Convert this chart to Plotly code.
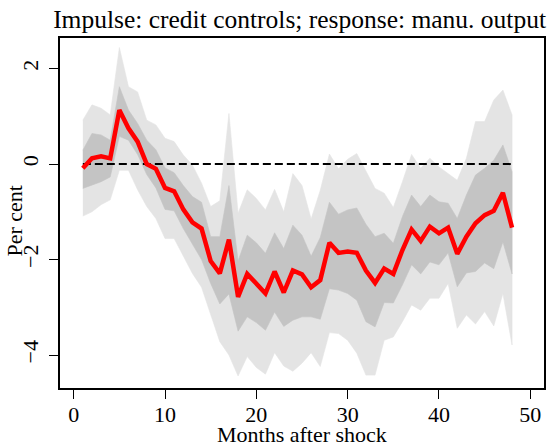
import plotly.graph_objects as go

months = list(range(1, 49))

# point estimate of the impulse response (per cent)
irf = [-0.09, 0.12, 0.16, 0.12, 1.13, 0.75, 0.47, 0.00, -0.10, -0.50,
       -0.57, -0.95, -1.22, -1.35, -2.03, -2.29, -1.58, -2.78, -2.30, -2.50,
       -2.71, -2.25, -2.69, -2.23, -2.31, -2.58, -2.43, -1.65, -1.86, -1.83,
       -1.86, -2.23, -2.49, -2.19, -2.30, -1.80, -1.37, -1.61, -1.31, -1.45,
       -1.33, -1.88, -1.52, -1.24, -1.07, -0.98, -0.60, -1.33]

# wide band
outer_hi = [0.92, 1.24, 1.17, 1.03, 2.44, 1.62, 1.51, 0.92, 0.82, 0.54,
            0.47, 0.19, -0.02, -0.40, -0.89, -0.77, 1.06, -1.03, -0.54, -0.72,
            -0.96, -0.53, -1.00, -0.20, -0.45, -1.15, -0.55, 0.21, -0.10, 0.10,
            0.22, -0.16, -0.51, -0.61, -0.91, -0.37, 0.20, -0.09, 0.12, -0.06,
            -0.20, -0.34, 0.12, 0.89, 0.89, 1.34, 1.55, 1.03]
outer_lo = [-1.09, -1.00, -0.85, -0.75, -0.13, -0.13, -0.54, -0.89, -1.14, -1.56,
            -1.56, -1.94, -2.29, -2.58, -3.15, -3.72, -4.00, -4.44, -4.03, -4.26,
            -4.40, -3.95, -4.23, -4.34, -4.17, -3.95, -4.24, -3.53, -3.55, -3.69,
            -3.96, -4.42, -4.42, -3.69, -3.62, -3.30, -2.95, -3.06, -2.81, -2.81,
            -2.50, -3.44, -3.16, -3.35, -3.09, -3.39, -2.71, -3.79]

# narrow band
inner_hi = [0.29, 0.64, 0.61, 0.50, 1.62, 1.13, 0.85, 0.50, 0.30, -0.08,
            -0.18, -0.45, -0.68, -0.80, -1.52, -1.52, -0.45, -2.03, -1.49, -1.65,
            -1.87, -1.44, -1.77, -1.28, -1.49, -1.93, -1.54, -0.80, -1.05, -0.96,
            -0.92, -1.26, -1.52, -1.45, -1.66, -1.10, -0.65, -0.89, -0.65, -0.79,
            -0.82, -1.14, -0.65, -0.23, -0.09, 0.08, 0.40, -0.16]
inner_lo = [-0.51, -0.44, -0.37, -0.27, 0.58, 0.50, 0.20, -0.22, -0.50, -0.95,
            -0.98, -1.35, -1.68, -2.00, -2.50, -2.93, -2.72, -3.50, -3.20, -3.32,
            -3.48, -3.10, -3.40, -3.27, -3.20, -3.20, -3.25, -2.61, -2.64, -2.71,
            -2.85, -3.30, -3.41, -2.90, -2.91, -2.53, -2.11, -2.30, -2.05, -2.11,
            -1.86, -2.57, -2.28, -2.25, -2.07, -2.19, -1.63, -2.30]

xticks = [0, 10, 20, 30, 40, 50]
yticks = [-4, -2, 0, 2]

FONT = "Liberation Serif, serif"


def band(hi, lo, color):
    return go.Scatter(x=months + months[::-1], y=hi + lo[::-1],
                      fill='toself', fillcolor=color, mode='lines',
                      line=dict(width=0.6, color=color),
                      showlegend=False, hoverinfo='skip')


fig = go.Figure()
fig.add_trace(band(outer_hi, outer_lo, '#e4e4e4'))
fig.add_trace(band(inner_hi, inner_lo, '#c4c4c4'))
fig.add_trace(go.Scatter(x=months, y=[0] * len(months), mode='lines',
                         line=dict(color='black', width=2, dash='8px,4px'),
                         showlegend=False))
fig.add_trace(go.Scatter(x=months, y=irf, mode='lines',
                         line=dict(color='#ff0000', width=4.5),
                         showlegend=False))

axis_style = dict(showline=True, mirror=True, linecolor='black', linewidth=1.5,
                  ticks='outside', ticklen=9, tickwidth=1, tickcolor='black',
                  showgrid=False, zeroline=False, automargin=False,
                  tickfont=dict(family=FONT, size=22, color='black'))

fig.update_layout(
    width=558, height=447,
    margin=dict(l=60, r=14, t=38, b=59),
    paper_bgcolor='white', plot_bgcolor='white',
    title=dict(text='Impulse: credit controls; response: manu. output',
               x=0.495, xref='paper', y=1.0, yanchor='top', pad=dict(t=10),
               font=dict(family=FONT, size=25.5, color='black')),
    xaxis=dict(range=[-1.5, 51.5], tickvals=xticks, ticklabelstandoff=-3,
               **axis_style),
    yaxis=dict(range=[-4.69, 2.64], tickvals=yticks, tickangle=-90,
               ticklabelstandoff=2, **axis_style),
)

# axis titles placed as annotations to sit as tight as in the reference
fig.add_annotation(text='Months after shock', xref='paper', yref='paper',
                   x=0.5, y=-0.133, xanchor='center', yanchor='middle',
                   showarrow=False, borderpad=0,
                   font=dict(family=FONT, size=22, color='black'))
fig.add_annotation(text='Per cent', xref='paper', yref='paper',
                   x=-0.094, y=0.477, xanchor='center', yanchor='middle',
                   textangle=-90, showarrow=False, borderpad=0,
                   font=dict(family=FONT, size=22, color='black'))

# drop the default page margin so the figure fills the window
fig.write_html("out.html", config={'displayModeBar': False},
               post_script="document.body.style.margin = '0';")
